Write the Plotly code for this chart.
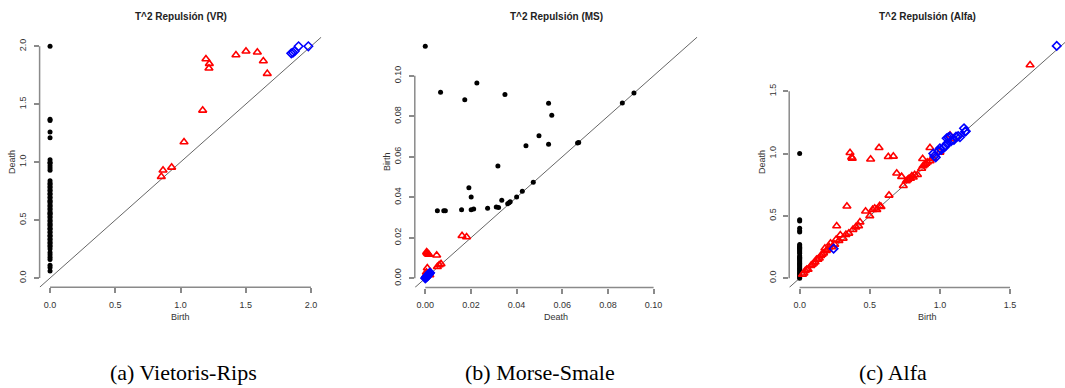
import plotly.graph_objects as go

W, H = 1065, 388

# ---------------- (a) Vietoris-Rips : x = Birth, y = Death ----------------
vr_h0_birth = [0.0] * 59
vr_h0_death = [2.00, 1.37, 1.36, 1.26, 1.21, 1.02, 1.00, 0.99, 0.97, 0.95, 0.93,
               0.84, 0.82, 0.81, 0.79, 0.78, 0.76, 0.75, 0.73, 0.72, 0.70, 0.69,
               0.67, 0.66, 0.65, 0.63, 0.62, 0.60, 0.59, 0.57, 0.56, 0.55, 0.53,
               0.52, 0.50, 0.49, 0.47, 0.46, 0.45, 0.43, 0.42, 0.40, 0.39, 0.37,
               0.36, 0.34, 0.33, 0.31, 0.30, 0.28, 0.27, 0.25, 0.22, 0.20, 0.18,
               0.16, 0.11, 0.09, 0.06]
vr_h1_birth = [0.853, 0.866, 0.932, 1.027, 1.170, 1.195, 1.221, 1.218, 1.425,
               1.502, 1.589, 1.635, 1.665]
vr_h1_death = [0.875, 0.930, 0.955, 1.174, 1.447, 1.890, 1.850, 1.810, 1.925,
               1.957, 1.948, 1.873, 1.764]
vr_h2_birth = [1.849, 1.862, 1.875, 1.905, 1.980]
vr_h2_death = [1.939, 1.946, 1.957, 2.000, 2.000]
vr_ticks = [0.0, 0.5, 1.0, 1.5, 2.0]
vr_ticklabels = ["0.0", "0.5", "1.0", "1.5", "2.0"]

# ---------------- (b) Morse-Smale : x = Death, y = Birth ----------------
ms_h0_x = [0.0000, 0.0067, 0.0226, 0.0173, 0.0349, 0.0540, 0.0554, 0.0498,
           0.0441, 0.0540, 0.0318, 0.0191, 0.0201, 0.0053, 0.0081, 0.0088,
           0.0159, 0.0201, 0.0212, 0.0273, 0.0311, 0.0321, 0.0335, 0.0361,
           0.0367, 0.0372, 0.0400, 0.0425, 0.0473, 0.0667, 0.0672, 0.0863,
           0.0914]
ms_h0_y = [0.1146, 0.0918, 0.0964, 0.0882, 0.0907, 0.0864, 0.0805, 0.0704,
           0.0655, 0.0662, 0.0555, 0.0447, 0.0401, 0.0334, 0.0334, 0.0334,
           0.0339, 0.0339, 0.0342, 0.0346, 0.0352, 0.0349, 0.0385, 0.0368,
           0.0373, 0.0378, 0.0401, 0.0430, 0.0474, 0.0668, 0.0671, 0.0866,
           0.0915]
ms_h1_x = [0.0006, 0.0011, 0.0008, 0.0015, 0.0050, 0.0061, 0.0053, 0.0069,
           0.0009, 0.0005, 0.0011, 0.0020, 0.0004, 0.0161, 0.0181]
ms_h1_y = [0.0130, 0.0121, 0.0125, 0.0118, 0.0114, 0.0066, 0.0057, 0.0071,
           0.0051, 0.0030, 0.0022, 0.0016, 0.0018, 0.0210, 0.0204]
ms_h2_x = [0.0000, 0.0002, 0.0004, 0.0007, 0.0009, 0.0010, 0.0013, 0.0015,
           0.0016, 0.0019, 0.0021]
ms_h2_y = [0.0000, 0.0004, 0.0006, 0.0009, 0.0011, 0.0015, 0.0016, 0.0020,
           0.0022, 0.0024, 0.0028]
ms_ticks = [0.00, 0.02, 0.04, 0.06, 0.08, 0.10]
ms_ticklabels = ["0.00", "0.02", "0.04", "0.06", "0.08", "0.10"]

# ---------------- (c) Alfa : x = Birth, y = Death ----------------
al_h0_death = [1.00, 0.47, 0.46, 0.40, 0.38, 0.37, 0.27, 0.26, 0.25, 0.245,
               0.24, 0.23, 0.22, 0.21, 0.20, 0.18, 0.17, 0.165, 0.16, 0.15,
               0.14, 0.13, 0.12, 0.11, 0.10, 0.09, 0.08, 0.07, 0.06, 0.05,
               0.04, 0.03, 0.02, 0.01, 0.00]
al_h0_birth = [0.0] * len(al_h0_death)
al_h1_birth = [0.02, 0.03, 0.04, 0.05, 0.06, 0.08, 0.09, 0.10, 0.11, 0.12,
               0.13, 0.14, 0.15, 0.16, 0.17, 0.19, 0.18, 0.20, 0.21, 0.22,
               0.23, 0.25, 0.26, 0.28, 0.29, 0.31, 0.33, 0.35, 0.38, 0.40,
               0.42, 0.43, 0.264, 0.337, 0.359, 0.371, 0.375, 0.506, 0.566,
               0.632, 0.668, 0.47, 0.50, 0.52, 0.535, 0.55, 0.57, 0.58, 0.637,
               0.692, 0.727, 0.739, 0.76, 0.77, 0.78, 0.79, 0.80, 0.81, 0.82,
               0.84, 0.87, 0.877, 0.88, 0.89, 0.90, 0.91, 0.929, 0.93, 0.95,
               1.00, 1.072, 1.10, 1.643]
al_h1_death = [0.03, 0.04, 0.06, 0.07, 0.07, 0.10, 0.11, 0.12, 0.13, 0.15,
               0.15, 0.16, 0.18, 0.19, 0.20, 0.22, 0.24, 0.23, 0.25, 0.28,
               0.25, 0.27, 0.31, 0.30, 0.347, 0.32, 0.35, 0.36, 0.39, 0.41,
               0.42, 0.45, 0.419, 0.577, 1.007, 0.970, 0.960, 0.954, 1.047,
               0.975, 0.978, 0.537, 0.50, 0.55, 0.561, 0.55, 0.58, 0.574, 0.665,
               0.842, 0.815, 0.742, 0.78, 0.79, 0.80, 0.80, 0.82, 0.81, 0.83,
               0.83, 0.88, 0.959, 0.90, 0.91, 0.92, 0.93, 1.047, 0.94, 0.96,
               1.01, 1.147, 1.12, 1.711]
al_h2_birth = [0.242, 0.953, 0.96, 0.97, 0.99, 1.00, 1.01, 1.03, 1.04, 1.048,
               1.06, 1.05, 1.072, 1.08, 1.10, 1.115, 1.13, 1.143, 1.172, 1.179,
               1.185, 1.833]
al_h2_death = [0.237, 1.000, 0.98, 0.97, 1.02, 1.042, 1.03, 1.05, 1.06, 1.123,
               1.13, 1.08, 1.136, 1.10, 1.11, 1.136, 1.14, 1.131, 1.203, 1.176,
               1.18, 1.864]
al_ticks = [0.0, 0.5, 1.0, 1.5]
al_ticklabels = ["0.0", "0.5", "1.0", "1.5"]

titles = ["T^2 Repulsión (VR)", "T^2 Repulsión (MS)", "T^2 Repulsión (Alfa)"]
xtitles = ["Birth", "Death", "Birth"]
ytitles = ["Death", "Birth", "Death"]
captions = ["(a) Vietoris-Rips", "(b) Morse-Smale", "(c) Alfa"]

# plot regions in pixels (left, right, top, bottom) and axis ranges
regions = [(39.6, 321.4, 37.0, 287.3), (414.8, 697.4, 36.9, 287.6),
           (789.2, 1065.0, 36.7, 287.5)]
xranges = [[-0.08, 2.08], [-0.004584, 0.119184], [-0.0746, 1.892]]
yranges = [[-0.08, 2.08], [-0.004584, 0.119184], [-0.0746, 1.938]]
caption_x = [183, 540, 893]
ytitle_x = [12, 387, 762]

panels = [
    (vr_h0_birth, vr_h0_death, vr_h1_birth, vr_h1_death, vr_h2_birth, vr_h2_death,
     vr_ticks, vr_ticklabels),
    (ms_h0_x, ms_h0_y, ms_h1_x, ms_h1_y, ms_h2_x, ms_h2_y, ms_ticks, ms_ticklabels),
    (al_h0_birth, al_h0_death, al_h1_birth, al_h1_death, al_h2_birth, al_h2_death,
     al_ticks, al_ticklabels),
]

fig = go.Figure()
axis_col = "#8a8a8a"
txt_col = "#333333"
shapes = []
annotations = []

for i, (x0, y0, x1, y1, x2, y2, ticks, tlabels) in enumerate(panels):
    n = "" if i == 0 else str(i + 1)
    xa, ya = "x" + n, "y" + n
    L, R, T, B = regions[i]
    dom_x = [L / W, R / W]
    dom_y = [(H - B) / H, (H - T) / H]
    lo = min(xranges[i][0], yranges[i][0])
    hi = max(xranges[i][1], yranges[i][1])
    fig.add_trace(go.Scatter(x=[lo, hi], y=[lo, hi], mode="lines",
                             line=dict(color="#555555", width=0.9),
                             xaxis=xa, yaxis=ya, hoverinfo="skip"))
    fig.add_trace(go.Scatter(x=x0, y=y0, mode="markers", xaxis=xa, yaxis=ya,
                             marker=dict(symbol="circle", size=5, color="black",
                                         line=dict(width=0))))
    fig.add_trace(go.Scatter(x=x1, y=y1, mode="markers", xaxis=xa, yaxis=ya,
                             marker=dict(symbol="triangle-up-open", size=7,
                                         color="red", line=dict(width=1.6, color="red"))))
    fig.add_trace(go.Scatter(x=x2, y=y2, mode="markers", xaxis=xa, yaxis=ya,
                             marker=dict(symbol="diamond-open", size=6.5,
                                         color="blue", line=dict(width=1.6, color="blue"))))
    common = dict(showgrid=False, zeroline=False, showline=False,
                  ticks="outside", ticklen=5, tickwidth=1.5, tickcolor=axis_col,
                  tickvals=ticks, ticktext=tlabels,
                  tickfont=dict(family="Liberation Sans, Arial", size=9, color=txt_col))
    fig.update_layout(**{
        "xaxis" + n: dict(domain=dom_x, range=xranges[i], anchor=ya,
                          ticklabelstandoff=4, **common),
        "yaxis" + n: dict(domain=dom_y, range=yranges[i], anchor=xa,
                          tickangle=-90, ticklabelstandoff=4, **common),
    })
    # R-style axis lines spanning only from first to last tick
    shapes.append(dict(type="line", xref=xa, yref="paper", x0=ticks[0], x1=ticks[-1],
                       y0=dom_y[0], y1=dom_y[0], line=dict(color=axis_col, width=1.5)))
    shapes.append(dict(type="line", xref="paper", yref=ya, x0=dom_x[0], x1=dom_x[0],
                       y0=ticks[0], y1=ticks[-1], line=dict(color=axis_col, width=1.5)))
    cx = (L + R) / 2
    annotations.append(dict(text="<b>" + titles[i] + "</b>", xref="paper", yref="paper",
                            x=cx / W, y=(H - 17) / H, xanchor="center", yanchor="middle",
                            showarrow=False,
                            font=dict(family="Liberation Sans, Arial", size=10, color="#222")))
    annotations.append(dict(text=xtitles[i], xref="paper", yref="paper",
                            x=cx / W, y=(H - 317) / H, xanchor="center", yanchor="middle",
                            showarrow=False,
                            font=dict(family="Liberation Sans, Arial", size=9, color=txt_col)))
    annotations.append(dict(text=ytitles[i], xref="paper", yref="paper", textangle=-90,
                            x=ytitle_x[i] / W, y=(H - 162) / H, xanchor="center",
                            yanchor="middle", showarrow=False,
                            font=dict(family="Liberation Sans, Arial", size=9, color=txt_col)))
    annotations.append(dict(text=captions[i], xref="paper", yref="paper",
                            x=caption_x[i] / W, y=(H - 372) / H, xanchor="center",
                            yanchor="middle", showarrow=False,
                            font=dict(family="Liberation Serif, Times New Roman, serif",
                                      size=22, color="black")))

fig.update_layout(width=W, height=H, margin=dict(l=0, r=0, t=0, b=0),
                  paper_bgcolor="white", plot_bgcolor="white", showlegend=False,
                  shapes=shapes, annotations=annotations)

fig.write_html("out.html",
               config={"displayModeBar": False},
               post_script="document.body.style.margin='0px';"
                           "document.body.style.padding='0px';"
                           "document.body.style.overflow='hidden';")
